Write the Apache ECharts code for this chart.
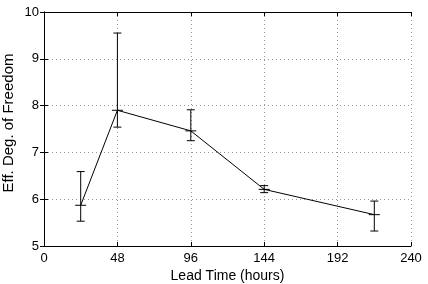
<!DOCTYPE html>
<html><head><meta charset="utf-8">
<script src="https://cdn.jsdelivr.net/npm/echarts@6/dist/echarts.min.js"></script>
<style>html,body{margin:0;padding:0;background:#fff}#c{width:428px;height:284px}</style>
</head><body><div id="c"></div>
<script>
const leadTimes = [24, 48, 96, 144, 216];
const meanDof = [5.87, 7.90, 7.46, 6.21, 5.67];
const lowDof = [5.53, 7.54, 7.25, 6.14, 5.32];
const highDof = [6.59, 9.55, 7.91, 6.29, 5.96];
const xTicks = [0, 48, 96, 144, 192, 240];
const yTicks = [5, 6, 7, 8, 9, 10];

const font = 'Liberation Sans, Arial, Helvetica, sans-serif';
const chart = echarts.init(document.getElementById('c'));
const lineData = leadTimes.map((t, i) => [t, meanDof[i]]);
const errData = leadTimes.map((t, i) => [t, lowDof[i], highDof[i], meanDof[i]]);

const axisCommon = {
  axisLine: {show: true, lineStyle: {color: '#000', width: 1}},
  axisTick: {show: true, inside: true, length: 4, lineStyle: {color: '#000'}},
  splitLine: {show: false},
};
const gridLine = {show: true, lineStyle: {color: '#999', type: [1, 3], width: 1}};

chart.setOption({
  animation: false,
  grid: {left: 44, top: 12, right: 17, bottom: 38, show: false, containLabel: false, outerBoundsMode: 'none'},
  xAxis: [
    Object.assign({}, axisCommon, {
      type: 'value', min: 0, max: 240, interval: 48,
      name: 'Lead Time (hours)', nameLocation: 'middle', nameGap: 23, nameMoveOverlap: false,
      nameTextStyle: {fontFamily: font, fontSize: 14, color: '#000'},
      axisLabel: {fontFamily: font, fontSize: 13, color: '#000', margin: 6},
      splitLine: gridLine
    }),
    Object.assign({}, axisCommon, {
      type: 'value', min: 0, max: 240, interval: 48, position: 'top',
      axisLabel: {show: false}
    })
  ],
  yAxis: [
    Object.assign({}, axisCommon, {
      type: 'value', min: 5, max: 10, interval: 1,
      name: 'Eff. Deg. of Freedom', nameLocation: 'middle', nameGap: 28, nameMoveOverlap: false,
      nameTextStyle: {fontFamily: font, fontSize: 15, color: '#000', padding: [0, 0, 0, 12]},
      axisLabel: {fontFamily: font, fontSize: 13, color: '#000', margin: 5},
      splitLine: gridLine
    }),
    Object.assign({}, axisCommon, {
      type: 'value', min: 5, max: 10, interval: 1, position: 'right',
      axisLabel: {show: false}
    })
  ],
  series: [
    {
      type: 'line', data: lineData, symbol: 'none', xAxisIndex: 0, yAxisIndex: 0,
      lineStyle: {color: '#000', width: 1}, z: 3
    },
    {
      type: 'custom', data: errData, z: 4, xAxisIndex: 0, yAxisIndex: 0,
      renderItem: function (params, api) {
        const x = api.value(0);
        const lo = api.coord([x, api.value(1)]);
        const hi = api.coord([x, api.value(2)]);
        const mid = api.coord([x, api.value(3)]);
        const cap = 4, mk = 5.5;
        const st = {stroke: '#000', lineWidth: 1};
        return {type: 'group', children: [
          {type: 'line', shape: {x1: lo[0], y1: lo[1], x2: hi[0], y2: hi[1]}, style: st},
          {type: 'line', shape: {x1: lo[0]-cap, y1: lo[1], x2: lo[0]+cap, y2: lo[1]}, style: st},
          {type: 'line', shape: {x1: hi[0]-cap, y1: hi[1], x2: hi[0]+cap, y2: hi[1]}, style: st},
          {type: 'line', shape: {x1: mid[0]-mk, y1: mid[1], x2: mid[0]+mk, y2: mid[1]}, style: st}
        ]};
      }
    }
  ]
});
</script></body></html>
